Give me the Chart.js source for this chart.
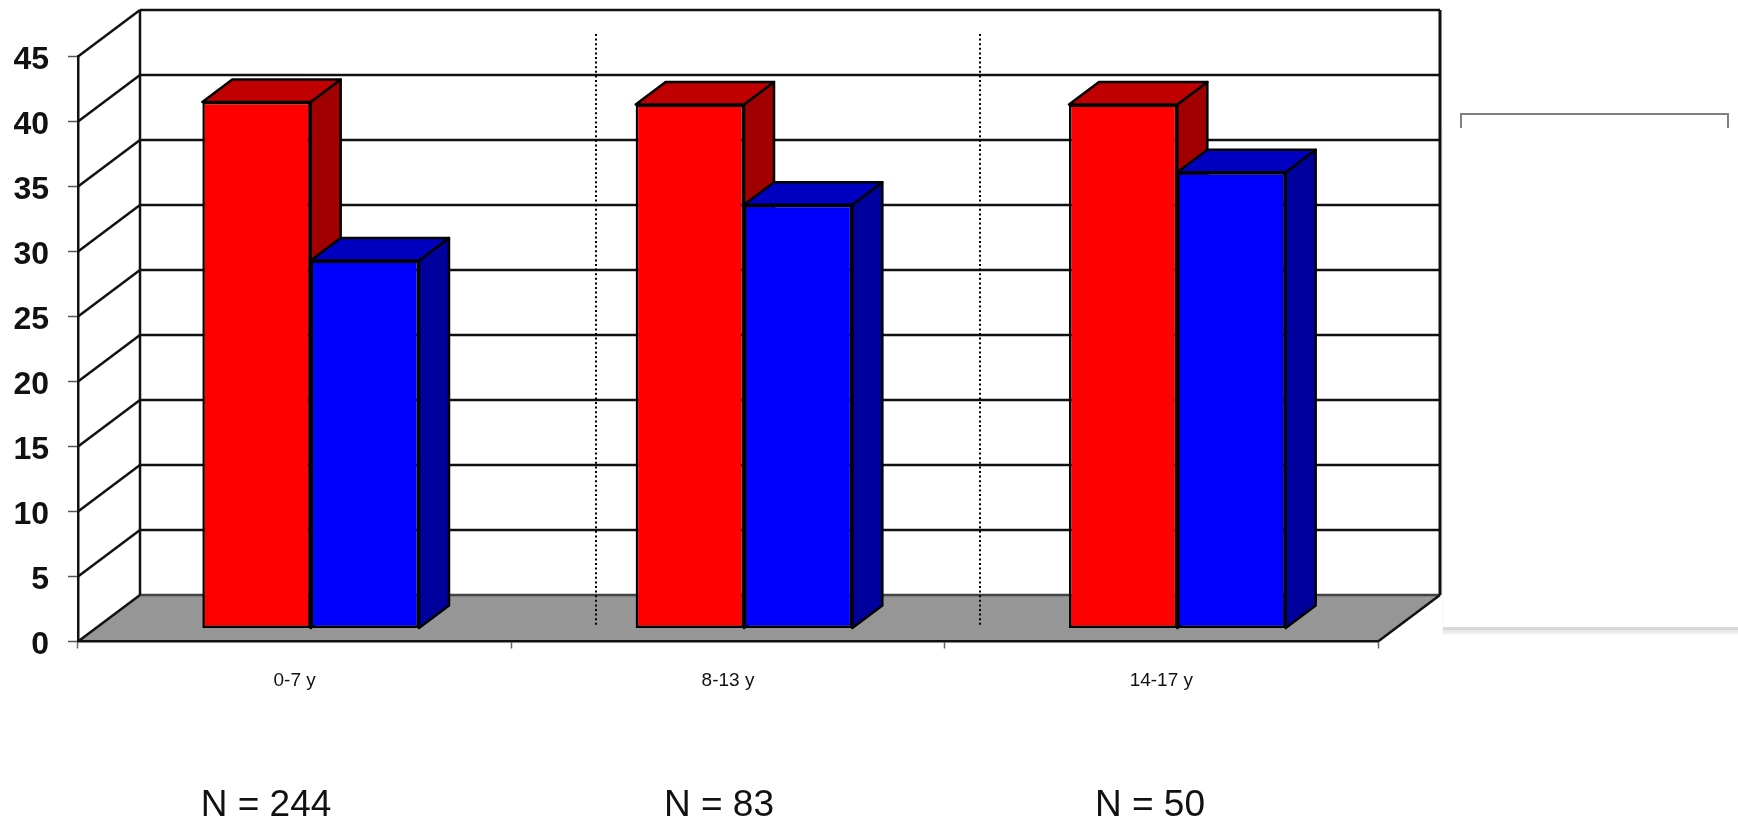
<!DOCTYPE html>
<html>
<head>
<meta charset="utf-8">
<style>
  html, body { margin: 0; padding: 0; background: #fff; overflow: hidden; }
  canvas { display: block; filter: blur(0.5px); }
</style>
<script src="https://cdn.jsdelivr.net/npm/chart.js@4"></script>
</head>
<body>
<canvas id="myChart" width="1738" height="821"></canvas>
<script>
const ageGroups = ['0-7 y', '8-13 y', '14-17 y'];
const redValues = [40.5, 40.3, 40.3];
const blueValues = [28.3, 32.6, 35.1];
const groupSizes = ['N = 244', 'N = 83', 'N = 50'];

// x of the N labels and the dotted separators
const sizeLabelX = [266, 719, 1150];
const separatorX = [596, 980];

// oblique offsets of the fake 3D
const wallDepth = { x: 62, y: -46.5 };
const barShift = { x: 16, y: -13 };
const barDepth = { x: 30, y: -22.5 };

function line(ctx, x1, y1, x2, y2) {
  ctx.beginPath();
  ctx.moveTo(x1, y1);
  ctx.lineTo(x2, y2);
  ctx.stroke();
}

function face(ctx, pts, fill) {
  ctx.beginPath();
  pts.forEach((p, i) => i ? ctx.lineTo(p[0], p[1]) : ctx.moveTo(p[0], p[1]));
  ctx.closePath();
  ctx.fillStyle = fill;
  ctx.fill();
  ctx.stroke();
}

const walls3d = {
  id: 'walls3d',
  beforeDraw(chart) {
    const { ctx, scales: { x, y } } = chart;
    const left = x.left, right = x.right, bottom = y.getPixelForValue(0);
    ctx.save();

    // floor
    ctx.beginPath();
    ctx.moveTo(left, bottom);
    ctx.lineTo(left + wallDepth.x, bottom + wallDepth.y);
    ctx.lineTo(right + wallDepth.x, bottom + wallDepth.y);
    ctx.lineTo(right, bottom);
    ctx.closePath();
    ctx.fillStyle = '#969696';
    ctx.fill();

    ctx.strokeStyle = '#111';
    ctx.lineWidth = 2.5;
    y.ticks.forEach(t => {
      const py = y.getPixelForValue(t.value);
      line(ctx, left, py, left + wallDepth.x, py + wallDepth.y);
      if (t.value > 0) line(ctx, left + wallDepth.x, py + wallDepth.y, right + wallDepth.x, py + wallDepth.y);
    });
    ctx.strokeStyle = '#444';
    line(ctx, left + wallDepth.x, bottom + wallDepth.y, right + wallDepth.x, bottom + wallDepth.y);

    // back corners
    ctx.strokeStyle = '#111';
    const top = y.getPixelForValue(45);
    line(ctx, left + wallDepth.x, top + wallDepth.y, left + wallDepth.x, bottom + wallDepth.y);
    ctx.lineWidth = 3;
    line(ctx, right + wallDepth.x, top + wallDepth.y, right + wallDepth.x, bottom + wallDepth.y);
    ctx.lineWidth = 2.5;
    line(ctx, right, bottom, right + wallDepth.x, bottom + wallDepth.y);

    ctx.restore();
  },
  beforeDatasetsDraw(chart) {
    const { ctx } = chart;
    ctx.save();
    ctx.strokeStyle = '#000';
    ctx.lineWidth = 2;
    ctx.setLineDash([2, 2.6]);
    separatorX.forEach(sx => line(ctx, sx, 34, sx, 626));
    ctx.restore();

    // side and top faces, red before blue so that blue ends up in front
    ctx.save();
    ctx.translate(barShift.x, barShift.y);
    ctx.strokeStyle = '#000';
    ctx.lineWidth = 2.5;
    ctx.lineJoin = 'round';
    chart.data.datasets.forEach((ds, i) => {
      chart.getDatasetMeta(i).data.forEach(bar => {
        const l = bar.x - bar.width / 2, r = bar.x + bar.width / 2;
        const dx = barDepth.x, dy = barDepth.y;
        face(ctx, [[r, bar.base], [r + dx, bar.base + dy], [r + dx, bar.y + dy], [r, bar.y]], ds.sideColor);
        face(ctx, [[l, bar.y], [l + dx, bar.y + dy], [r + dx, bar.y + dy], [r, bar.y]], ds.topColor);
      });
    });
    ctx.restore();
  },
  beforeDatasetDraw(chart) {
    chart.ctx.save();
    chart.ctx.translate(barShift.x, barShift.y);
  },
  afterDatasetDraw(chart) {
    chart.ctx.restore();
  },
  afterDraw(chart) {
    const { ctx } = chart;
    ctx.save();

    // white panel covering the legend, with its soft shadow
    ctx.fillStyle = '#f6f6f6';
    ctx.fillRect(1442, 128, 296, 507);
    ctx.fillStyle = '#e9e9e9';
    ctx.fillRect(1443, 630, 295, 3);
    ctx.fillStyle = '#d8d8d8';
    ctx.fillRect(1443, 627, 295, 3);
    ctx.fillStyle = '#fff';
    ctx.fillRect(1443, 128, 295, 499);

    // what is left of the legend frame
    ctx.strokeStyle = '#808080';
    ctx.lineWidth = 2;
    ctx.beginPath();
    ctx.moveTo(1461, 128);
    ctx.lineTo(1461, 114);
    ctx.lineTo(1728, 114);
    ctx.lineTo(1728, 128);
    ctx.stroke();

    ctx.fillStyle = '#111';
    ctx.font = '37px "Liberation Sans"';
    ctx.textAlign = 'center';
    ctx.textBaseline = 'alphabetic';
    groupSizes.forEach((txt, i) => ctx.fillText(txt, sizeLabelX[i], 816));
    ctx.restore();
  }
};

const data = {
  labels: ageGroups,
  datasets: [
    { label: 'Red', data: redValues, backgroundColor: '#ff0000', sideColor: '#a00000', topColor: '#c00000' },
    { label: 'Blue', data: blueValues, backgroundColor: '#0000ff', sideColor: '#00009c', topColor: '#0000c0' }
  ]
};

const config = {
  type: 'bar',
  data: data,
  plugins: [walls3d],
  options: {
    responsive: false,
    animation: false,
    devicePixelRatio: 1,
    layout: { padding: { left: 0, top: 56.5, right: 360, bottom: 0 } },
    datasets: {
      bar: {
        categoryPercentage: 0.5,
        barPercentage: 1,
        borderColor: '#000',
        borderWidth: 2.5,
        borderSkipped: false,
        clip: false
      }
    },
    plugins: {
      legend: { display: false },
      title: { display: false },
      tooltip: { enabled: false }
    },
    scales: {
      x: {
        afterFit: s => { s.height = 179.5; },
        grid: { drawOnChartArea: false, tickLength: 7, tickColor: '#666', tickWidth: 1.5 },
        border: { color: '#111', width: 2.5 },
        ticks: {
          color: '#111',
          padding: 21,
          maxRotation: 0,
          font: { family: '"Liberation Sans"', size: 19 }
        }
      },
      y: {
        min: 0,
        max: 45,
        afterFit: s => { s.width = 78; },
        grid: { drawOnChartArea: false, tickLength: 10, tickColor: '#555', tickWidth: 1.5 },
        border: { color: '#111', width: 2.5 },
        ticks: {
          stepSize: 5,
          color: '#111',
          padding: 19,
          // empty first line: the labels sit a little below their ticks
          callback: v => ['', String(v)],
          font: { family: '"Liberation Sans"', size: 32, weight: 'bold', lineHeight: 0.25 }
        }
      }
    }
  }
};

new Chart(document.getElementById('myChart'), config);
</script>
</body>
</html>
